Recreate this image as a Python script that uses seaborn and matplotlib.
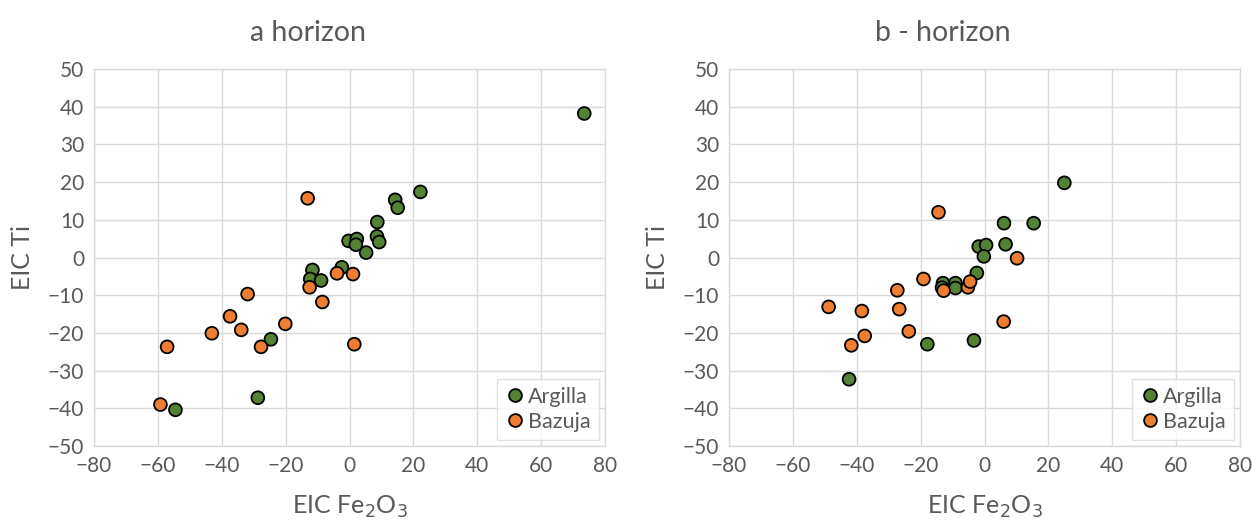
import pandas as pd
import numpy as np
import matplotlib
matplotlib.use("Agg")
import matplotlib.pyplot as plt
import seaborn as sns

# a horizon
a_argilla_x = [73.5, 22.2, 14.3, 15.1, 8.7, 8.6, 9.3, 5.2, -0.3, 2.3, 2.0, -2.4,
               -11.6, -12.3, -8.9, -24.6, -28.7, -54.5]
a_argilla_y = [38.2, 17.4, 15.3, 13.2, 9.4, 5.6, 4.1, 1.3, 4.4, 4.9, 3.4, -2.6,
               -3.3, -5.7, -6.1, -21.7, -37.2, -40.4]
a_bazuja_x = [-13.1, -3.9, 1.1, -12.5, -8.5, -31.9, -37.4, -33.9, -43.1, -20.1,
              -27.7, -57.1, -59.2, 1.5]
a_bazuja_y = [15.7, -4.2, -4.4, -7.9, -11.8, -9.7, -15.6, -19.2, -20.1, -17.6,
              -23.7, -23.7, -39.0, -23.0]

# b - horizon
b_argilla_x = [-42.4, -17.9, -3.3, -13.0, -13.3, -9.1, -9.1, -2.4, -1.8, 0.5,
               -0.2, 6.1, 6.6, 15.4, 25.0]
b_argilla_y = [-32.3, -23.0, -22.0, -6.8, -8.0, -6.8, -8.1, -4.1, 2.9, 3.3,
               0.3, 9.1, 3.5, 9.1, 19.8]
b_bazuja_x = [-14.4, -19.1, -27.3, -48.8, -38.4, -26.7, -37.5, -41.7, -23.7,
              -12.8, -5.2, -4.5, 10.2, 6.0]
b_bazuja_y = [12.0, -5.7, -8.7, -13.1, -14.2, -13.7, -20.8, -23.3, -19.6,
              -8.8, -7.9, -6.4, -0.2, -17.0]


def make_df(ax_, ay_, bx_, by_):
    return pd.DataFrame({
        "x": ax_ + bx_,
        "y": ay_ + by_,
        "group": ["Argilla"] * len(ax_) + ["Bazuja"] * len(bx_),
    })


sns.set_style("white")
plt.rcParams["font.family"] = ["Lato", "DejaVu Sans"]
text_color = "#595959"
grid_color = "#d9d9d9"
palette = {"Argilla": "#548235", "Bazuja": "#ED7D31"}

fig = plt.figure(figsize=(12.52, 5.27), dpi=100)
ax_a = fig.add_axes([94 / 1252, 1 - 446 / 527, 511 / 1252, 377 / 527])
ax_b = fig.add_axes([729 / 1252, 1 - 446 / 527, 511 / 1252, 377 / 527])

panels = [
    (ax_a, make_df(a_argilla_x, a_argilla_y, a_bazuja_x, a_bazuja_y), "a horizon"),
    (ax_b, make_df(b_argilla_x, b_argilla_y, b_bazuja_x, b_bazuja_y), "b - horizon"),
]

for ax, df, title in panels:
    sns.scatterplot(data=df, x="x", y="y", hue="group", palette=palette,
                    s=85, edgecolor="black", linewidth=1.3, ax=ax, zorder=3)
    ax.set_xlim(-80, 80)
    ax.set_ylim(-50, 50)
    ax.set_xticks(np.arange(-80, 81, 20))
    ax.set_yticks(np.arange(-50, 51, 10))
    ax.set_xticklabels([str(v).replace("-", "\u2212") for v in range(-80, 81, 20)])
    ax.set_yticklabels([str(v).replace("-", "\u2212") for v in range(-50, 51, 10)])
    ax.grid(True, color=grid_color, linewidth=1)
    ax.set_axisbelow(True)
    for sp in ax.spines.values():
        sp.set_color(grid_color)
        sp.set_linewidth(1)
    ax.tick_params(axis="both", length=0, labelsize=15, labelcolor=text_color, pad=7)
    ax.set_xlabel("EIC Fe$_2$O$_3$", fontsize=18, color=text_color, labelpad=13)
    ax.set_ylabel("EIC Ti", fontsize=18, color=text_color, labelpad=10)
    ax.set_title(title, fontsize=20.5, color=text_color, pad=20, x=0.418)
    leg = ax.legend(loc="lower right", fontsize=15.5, frameon=True, fancybox=False,
                    borderpad=0.35, handletextpad=0.1, handlelength=1.0,
                    labelspacing=0.25, borderaxespad=0.3)
    leg.get_frame().set_edgecolor(grid_color)
    leg.get_frame().set_linewidth(1)
    for t in leg.get_texts():
        t.set_color(text_color)
    for h in leg.legend_handles:
        h.set_markeredgecolor("black")

fig.savefig("out.png", dpi=100)
